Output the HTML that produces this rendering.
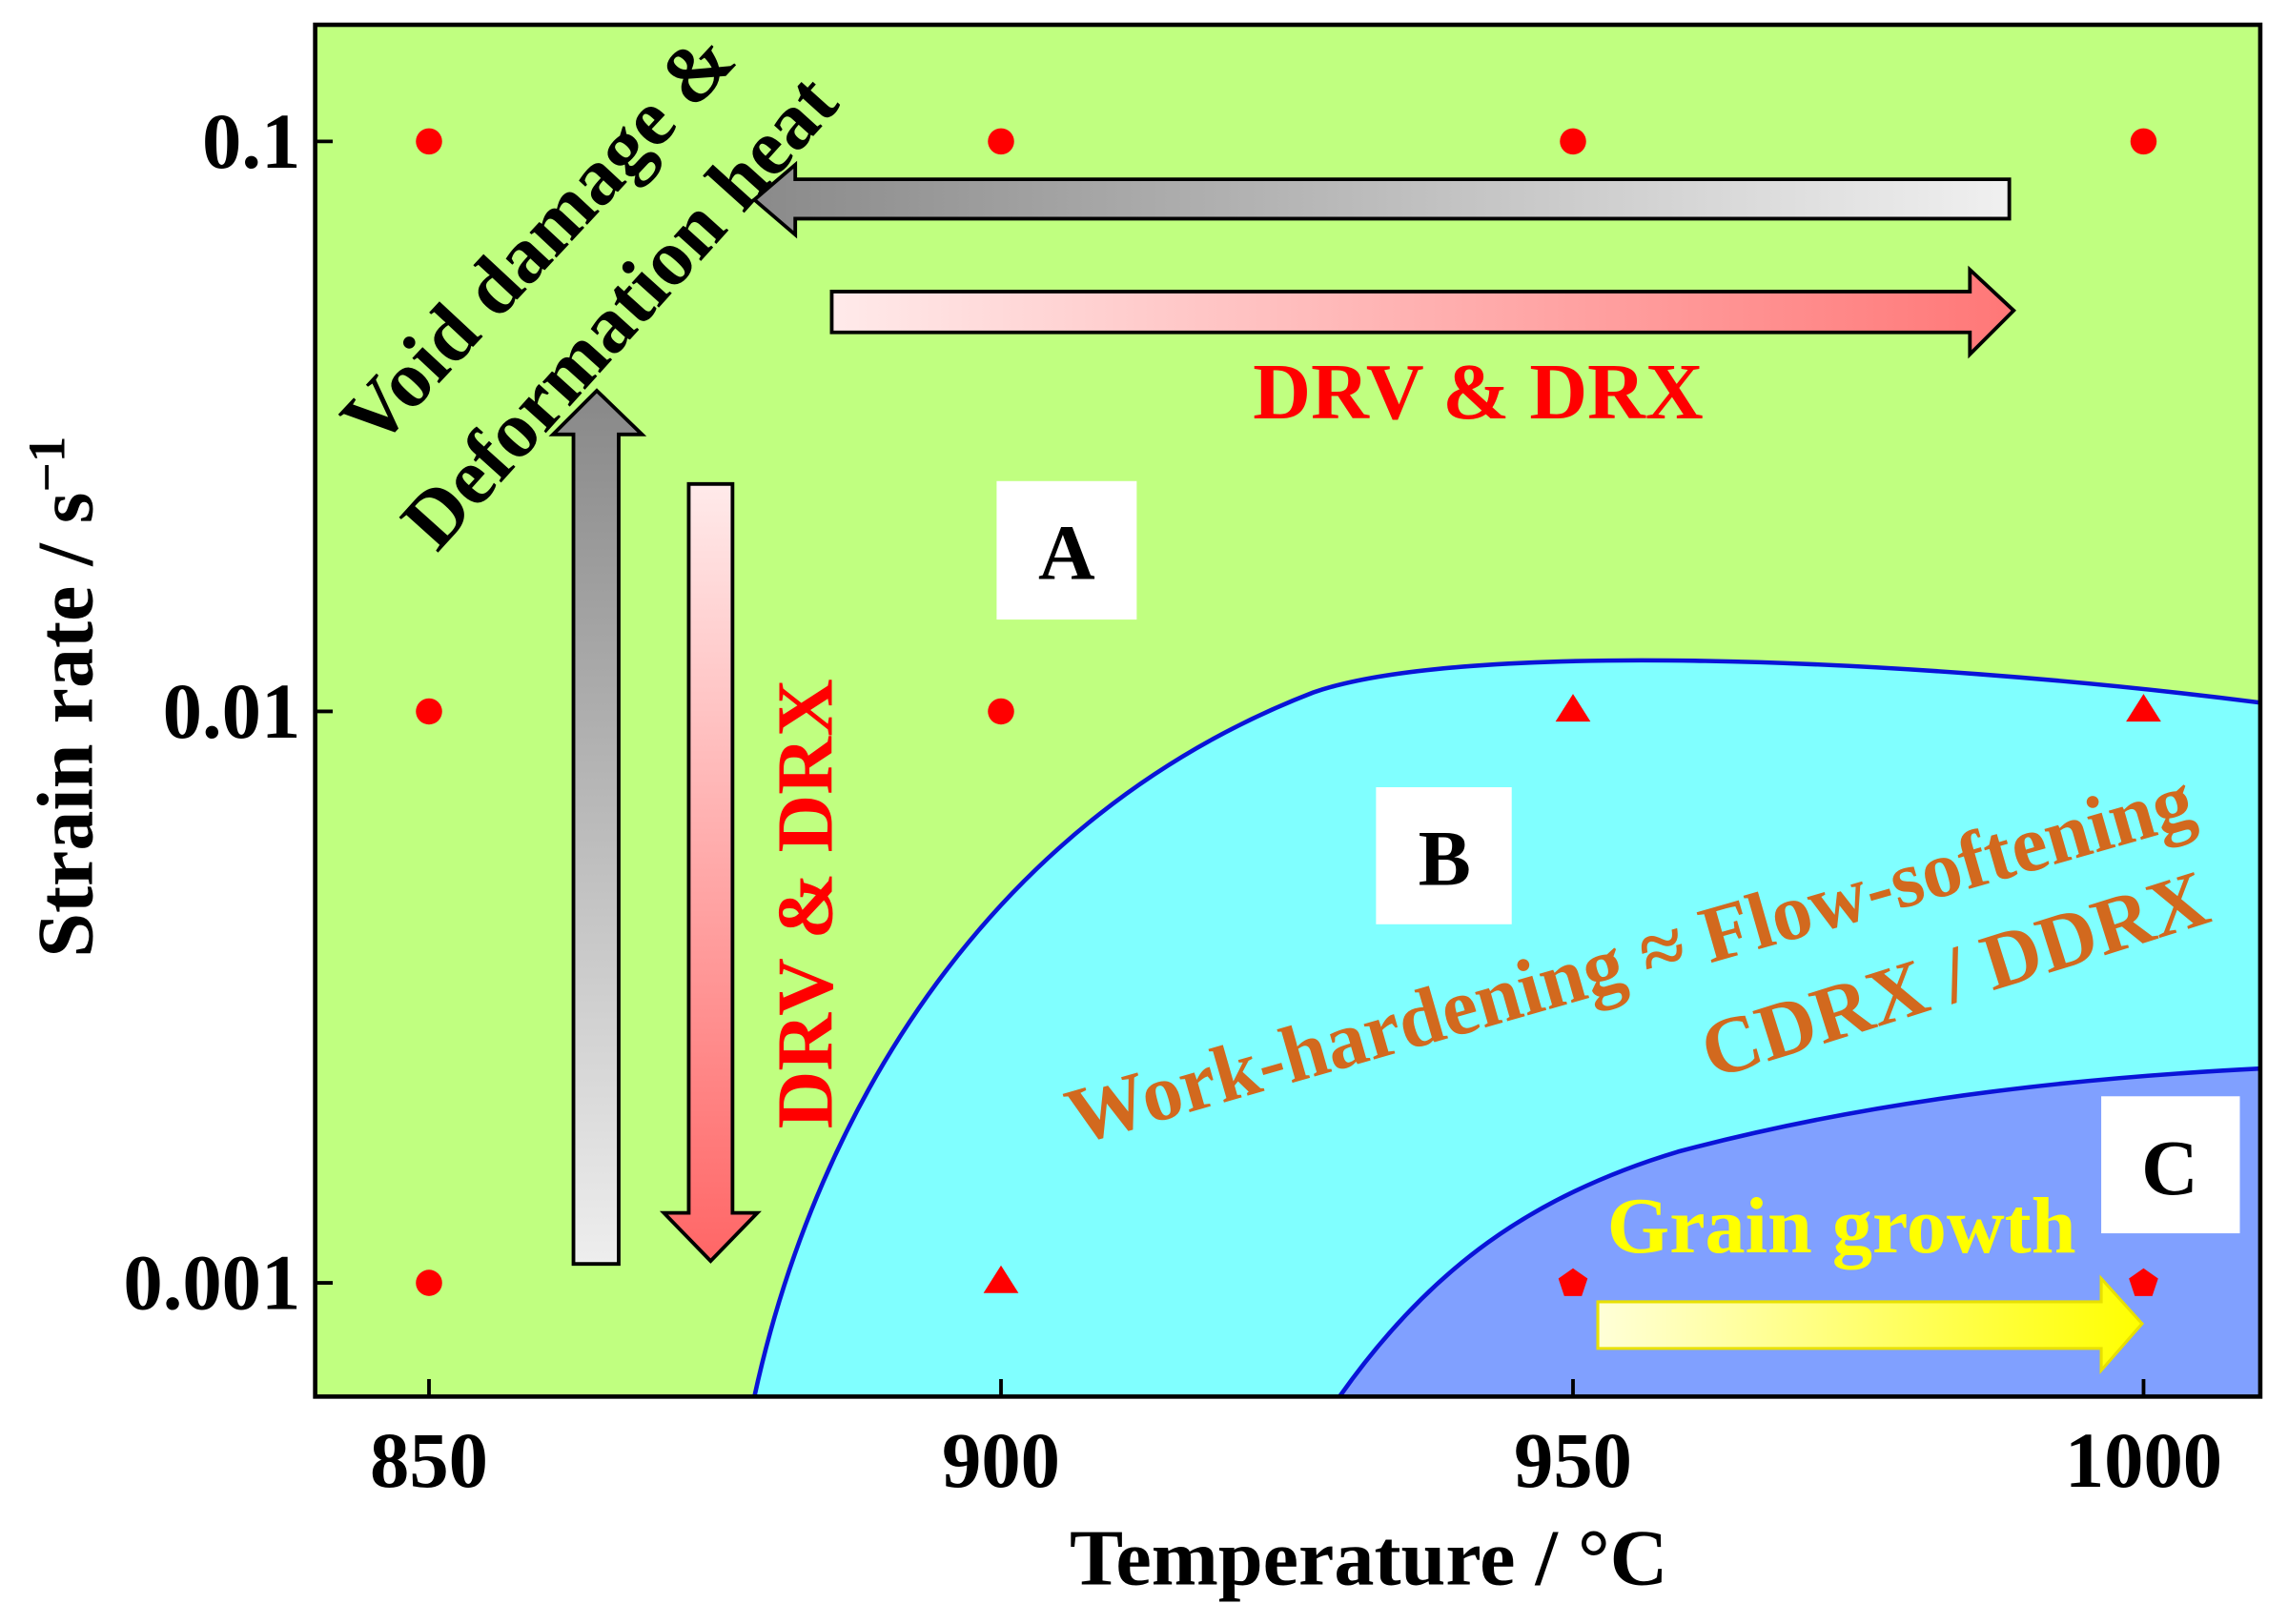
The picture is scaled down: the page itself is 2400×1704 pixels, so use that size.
<!DOCTYPE html>
<html><head><meta charset="utf-8"><style>
html,body{margin:0;padding:0;background:#fff}
svg{display:block}
text{font-family:"Liberation Serif",serif;font-weight:bold}
</style></head><body>
<svg width="2400" height="1704" viewBox="0 0 1568 1114" preserveAspectRatio="none" xmlns="http://www.w3.org/2000/svg">
<defs>
<linearGradient id="gl" x1="0" x2="1" y1="0" y2="0"><stop offset="0" stop-color="#8a8a8a"/><stop offset="1" stop-color="#f0f0f0"/></linearGradient>
<linearGradient id="rr" x1="0" x2="1" y1="0" y2="0"><stop offset="0" stop-color="#ffeaea"/><stop offset="1" stop-color="#f77"/></linearGradient>
<linearGradient id="gv" x1="0" x2="0" y1="0" y2="1"><stop offset="0" stop-color="#888"/><stop offset="1" stop-color="#eee"/></linearGradient>
<linearGradient id="rv" x1="0" x2="0" y1="0" y2="1"><stop offset="0" stop-color="#ffeaea"/><stop offset="1" stop-color="#f66"/></linearGradient>
<linearGradient id="yy" x1="0" x2="1" y1="0" y2="0"><stop offset="0" stop-color="#ffffd8"/><stop offset="1" stop-color="#ffff00"/></linearGradient>
</defs>
<rect x="216" y="17" width="1333" height="941" fill="#c0ff80"/>
<path d="M517,958 C560,760 680,560 900,475 C1000,440 1300,450 1549,482 L1549,958 Z" fill="#80ffff" stroke="none"/>
<path d="M517,958 C560,760 680,560 900,475 C1000,440 1300,450 1549,482" fill="none" stroke="#0a14d8" stroke-width="3"/>
<path d="M918,958 C980,870 1050,820 1150,790 C1300,750 1450,738 1549,733 L1549,958 Z" fill="#80a0ff"/>
<path d="M918,958 C980,870 1050,820 1150,790 C1300,750 1450,738 1549,733" fill="none" stroke="#0a14d8" stroke-width="3"/>
<rect x="216" y="17" width="1333" height="941" fill="none" stroke="#000" stroke-width="3"/>
<g stroke="#000" stroke-width="2.5">
<line x1="294" y1="958" x2="294" y2="946"/><line x1="686" y1="958" x2="686" y2="946"/><line x1="1078" y1="958" x2="1078" y2="946"/><line x1="1469" y1="958" x2="1469" y2="946"/>
<line x1="216" y1="97" x2="228" y2="97"/><line x1="216" y1="488" x2="228" y2="488"/><line x1="216" y1="880" x2="228" y2="880"/>
</g>
<polygon points="545,113 545,123 1377,123 1377,150 545,150 545,161 517,137" fill="url(#gl)" stroke="#000" stroke-width="2.5"/>
<polygon points="570,200 1350,200 1350,185 1380,213 1350,243 1350,228 570,228" fill="url(#rr)" stroke="#000" stroke-width="2.5"/>
<polygon points="409,268 440,298 424,298 424,867 393,867 393,298 379,298" fill="url(#gv)" stroke="#000" stroke-width="2.5"/>
<polygon points="472,332 502,332 502,832 519,832 487,865 455,832 472,832" fill="url(#rv)" stroke="#000" stroke-width="2.5"/>
<polygon points="1095,893 1440,893 1440,877 1468,908 1440,940 1440,925 1095,925" fill="url(#yy)" stroke="#e8e000" stroke-width="2"/>
<rect x="683" y="330" width="96" height="95" fill="#fff"/>
<text x="731" y="397" font-size="54" text-anchor="middle">A</text>
<rect x="943" y="540" width="93" height="94" fill="#fff"/>
<text x="990" y="607" font-size="54" text-anchor="middle">B</text>
<rect x="1440" y="752" width="95" height="94" fill="#fff"/>
<text x="1487" y="819" font-size="54" text-anchor="middle">C</text>
<g fill="#f00">
<circle cx="294" cy="97" r="9"/><circle cx="686" cy="97" r="9"/><circle cx="1078" cy="97" r="9"/><circle cx="1469" cy="97" r="9"/>
<circle cx="294" cy="488" r="9"/><circle cx="686" cy="488" r="9"/><circle cx="294" cy="880" r="9"/>
<polygon points="1078,476 1090,495 1066,495"/><polygon points="1469,476 1481,495 1457,495"/><polygon points="686,868 698,887 674,887"/>
<polygon points="1078,870 1088,877 1084,889 1072,889 1068,877"/><polygon points="1469,870 1479,877 1475,889 1463,889 1459,877"/>
</g>
<text x="1013" y="287" font-size="55" fill="#f00" text-anchor="middle">DRV &amp; DRX</text>
<text transform="translate(570,620) rotate(-90)" font-size="55" fill="#f00" text-anchor="middle">DRV &amp; DRX</text>
<text transform="translate(382,176) rotate(-47)" font-size="55" text-anchor="middle">Void damage &amp;</text>
<text transform="translate(438,226) rotate(-48)" font-size="55" text-anchor="middle">Deformation heat</text>
<text transform="translate(1122,675) rotate(-16)" font-size="55" fill="#d2691e" text-anchor="middle">Work-hardening ≈ Flow-softening</text>
<text transform="translate(1345,686) rotate(-17.5)" font-size="55" fill="#d2691e" text-anchor="middle">CDRX / DDRX</text>
<text x="1262" y="859" font-size="55" fill="#ffff00" text-anchor="middle">Grain growth</text>
<g font-size="54">
<text x="206" y="115" text-anchor="end">0.1</text>
<text x="206" y="506" text-anchor="end">0.01</text>
<text x="206" y="898" text-anchor="end">0.001</text>
<text x="294" y="1020" text-anchor="middle">850</text>
<text x="686" y="1020" text-anchor="middle">900</text>
<text x="1078" y="1020" text-anchor="middle">950</text>
<text x="1469" y="1020" text-anchor="middle">1000</text>
</g>
<text x="938" y="1087" font-size="55" text-anchor="middle">Temperature / °C</text>
<text transform="translate(63,478) rotate(-90)" font-size="55" text-anchor="middle">Strain rate / s<tspan dy="-19" font-size="36">−1</tspan></text>
</svg>
</body></html>
